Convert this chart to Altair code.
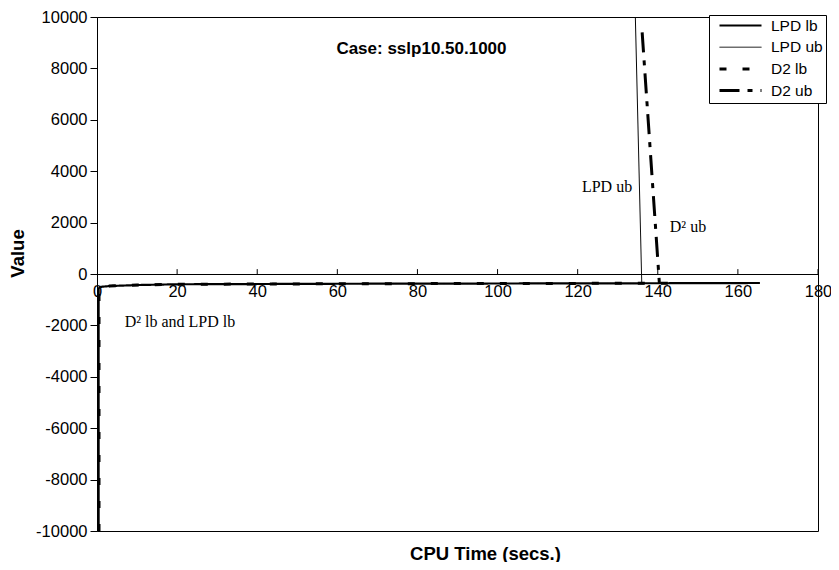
import altair as alt
import pandas as pd

series_names = ["LPD lb", "LPD ub", "D2 lb", "D2 ub"]

lpd_lb_x = [0.4, 0.4, 1, 3, 10, 20, 40, 60, 80, 100, 120, 140, 165.5]
lpd_lb_y = [-10000, -560, -500, -470, -430, -400, -390, -380, -375, -370, -365, -360, -350]
lpd_ub_x = [134.4, 136.0]
lpd_ub_y = [10000, -360]
d2_lb_x = [0.5, 0.5, 1, 3, 10, 20, 40, 60, 80, 100, 120, 140, 145]
d2_lb_y = [-10000, -560, -500, -470, -430, -400, -390, -380, -375, -370, -365, -360, -358]
d2_ub_x = [136.1, 140.4]
d2_ub_y = [9400, -360]

x_ticks = [0, 20, 40, 60, 80, 100, 120, 140, 160, 180]
y_ticks = [-10000, -8000, -6000, -4000, -2000, 0, 2000, 4000, 6000, 8000, 10000]

note_labels = ["LPD ub", "D\u00b2 ub", "D\u00b2 lb and LPD lb"]
note_x = [133.6, 143.0, 6.9]
note_y = [3370, 1820, -1860]
note_align = ["right", "left", "left"]

case_label = ["Case: sslp10.50.1000"]
case_x = [81.0]
case_y = [8750]

rows = []
for name, xs, ys in [("LPD lb", lpd_lb_x, lpd_lb_y), ("LPD ub", lpd_ub_x, lpd_ub_y),
                     ("D2 lb", d2_lb_x, d2_lb_y), ("D2 ub", d2_ub_x, d2_ub_y)]:
    for i, (xv, yv) in enumerate(zip(xs, ys)):
        rows.append({"series": name, "x": xv, "y": yv, "order": i})
df = pd.DataFrame(rows)

SANS = "Liberation Sans"
SERIF = "Liberation Serif"

xscale = alt.Scale(domain=[0, 180], nice=False, zero=False)
yscale = alt.Scale(domain=[-10000, 10000], nice=False, zero=False)

lines = alt.Chart(df).mark_line(clip=True, color="black").encode(
    x=alt.X("x:Q", scale=xscale, axis=alt.Axis(
        values=x_ticks, ticks=False, grid=False, offset=-257, labelFontSize=16.5,
        labelFont=SANS, labelColor="black", labelPadding=9, domainColor="black",
        title="CPU Time (secs.)", titleFont=SANS, titleFontSize=18.5, titleFontWeight="bold",
        titleColor="black", titleX=388, titleY=279, titleAlign="center",
        titleBaseline="middle", labelFlush=False, labelOverlap=False)),
    y=alt.Y("y:Q", scale=yscale, axis=alt.Axis(
        values=y_ticks, labelExpr="'' + datum.value", grid=False, tickSize=7,
        tickColor="black", labelFontSize=16.5, labelFont=SANS, labelColor="black",
        labelPadding=3, domainColor="black", title="Value", titleFont=SANS,
        titleFontSize=18.5, titleFontWeight="bold", titleColor="black", titleX=-80,
        titleY=236, titleAngle=-90, titleAlign="center", titleBaseline="middle",
        labelFlush=False, labelOverlap=False)),
    strokeDash=alt.StrokeDash("series:N", scale=alt.Scale(
        domain=series_names, range=[[1, 0], [1, 0], [7, 16], [20, 8, 5, 8]]),
        legend=alt.Legend(title=None)),
    strokeWidth=alt.StrokeWidth("series:N", scale=alt.Scale(
        type="ordinal", domain=series_names, range=[2.2, 1, 3, 3]),
        legend=alt.Legend(title=None)),
    detail="series:N",
    order="order:Q",
)

tick_df = pd.DataFrame({"x": x_ticks[1:]})
ticks = alt.Chart(tick_df).mark_rule(color="black", strokeWidth=1).encode(
    x=alt.X("x:Q", scale=xscale),
    y=alt.datum(0),
    y2=alt.datum(190),
)

notes_df = pd.DataFrame({"label": note_labels, "x": note_x, "y": note_y, "align": note_align})
notes_r = alt.Chart(notes_df[notes_df["align"] == "right"]).mark_text(
    font=SERIF, fontSize=16, color="black", align="right", baseline="middle").encode(
    x=alt.X("x:Q", scale=xscale), y=alt.Y("y:Q", scale=yscale), text="label:N")
notes_l = alt.Chart(notes_df[notes_df["align"] == "left"]).mark_text(
    font=SERIF, fontSize=16, color="black", align="left", baseline="middle").encode(
    x=alt.X("x:Q", scale=xscale), y=alt.Y("y:Q", scale=yscale), text="label:N")

case_df = pd.DataFrame({"label": case_label, "x": case_x, "y": case_y})
case = alt.Chart(case_df).mark_text(
    font=SANS, fontSize=17, fontWeight="bold", color="black", align="center",
    baseline="middle").encode(
    x=alt.X("x:Q", scale=xscale), y=alt.Y("y:Q", scale=yscale), text="label:N")

chart = alt.layer(lines, ticks, notes_r, notes_l, case).properties(
    width=721, height=514,
    autosize=alt.AutoSizeParams(type="none"),
    padding={"left": 89, "top": 9, "right": 13, "bottom": 31},
).configure_view(
    stroke="black", strokeWidth=1,
).configure_legend(
    orient="none", legendX=612, legendY=-2, fillColor="white", strokeColor="black",
    padding=3, symbolType="stroke", symbolSize=1764, symbolStrokeColor="black",
    symbolOffset=6, labelOffset=8, labelFont=SANS, labelFontSize=15.5,
    labelColor="black", rowPadding=5.7, clipHeight=15, cornerRadius=0,
)

chart.save("out.html", embed_options={"renderer": "svg", "actions": False})
